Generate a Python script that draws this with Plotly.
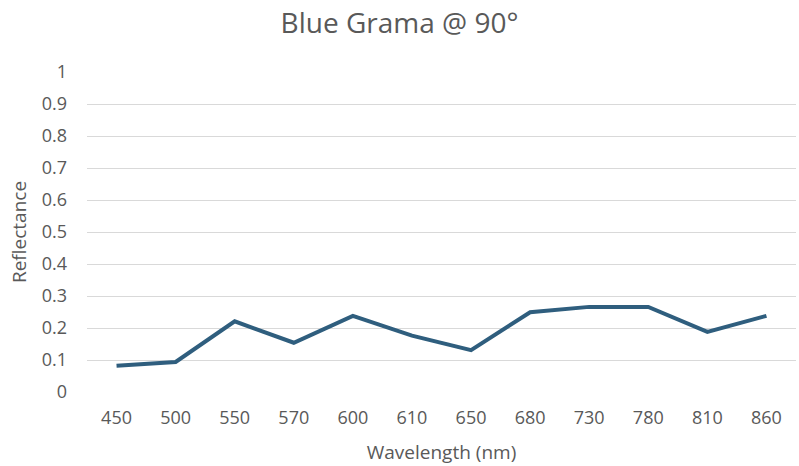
import plotly.graph_objects as go

wavelengths = ["450", "500", "550", "570", "600", "610", "650", "680", "730", "780", "810", "860"]
reflectance = [0.082, 0.094, 0.221, 0.154, 0.238, 0.176, 0.131, 0.249, 0.266, 0.266, 0.188, 0.238]
y_ticks = [0, 0.1, 0.2, 0.3, 0.4, 0.5, 0.6, 0.7, 0.8, 0.9, 1]
y_tick_labels = ["0", "0.1", "0.2", "0.3", "0.4", "0.5", "0.6", "0.7", "0.8", "0.9", "1"]

font_family = "Open Sans, Lato, sans-serif"
gray = "#595959"

fig = go.Figure()
fig.add_trace(go.Scatter(
    x=wavelengths, y=reflectance, mode="lines",
    line=dict(color="#2f5e7e", width=4),
))

fig.update_layout(
    width=799, height=466,
    paper_bgcolor="white", plot_bgcolor="white",
    margin=dict(l=87, r=3, t=72, b=74),
    showlegend=False,
    title=dict(text="Blue Grama @ 90°", x=0.5, xanchor="center", y=1 - 23 / 466, yanchor="middle",
               font=dict(family=font_family, size=28, color=gray)),
    font=dict(family=font_family, color=gray, size=18),
)
fig.update_xaxes(
    type="category", range=[-0.5, len(wavelengths) - 0.5],
    showgrid=False, showline=False, zeroline=False, automargin=False,
    ticks="", tickfont=dict(size=18, color=gray), ticklabelstandoff=13,
    title=dict(text="Wavelength (nm)", font=dict(size=19, color=gray), standoff=17),
)
fig.update_yaxes(
    range=[0, 1], tickvals=y_ticks, ticktext=y_tick_labels,
    showgrid=True, gridcolor="#d9d9d9", gridwidth=1, zeroline=False, showline=False, automargin=False,
    ticks="", tickfont=dict(size=18, color=gray), ticklabelstandoff=19,
    title=dict(text="Reflectance", font=dict(size=19, color=gray), standoff=10),
)

fig.write_html("out.html", config={"displayModeBar": False},
               post_script="document.body.style.margin='0';")
